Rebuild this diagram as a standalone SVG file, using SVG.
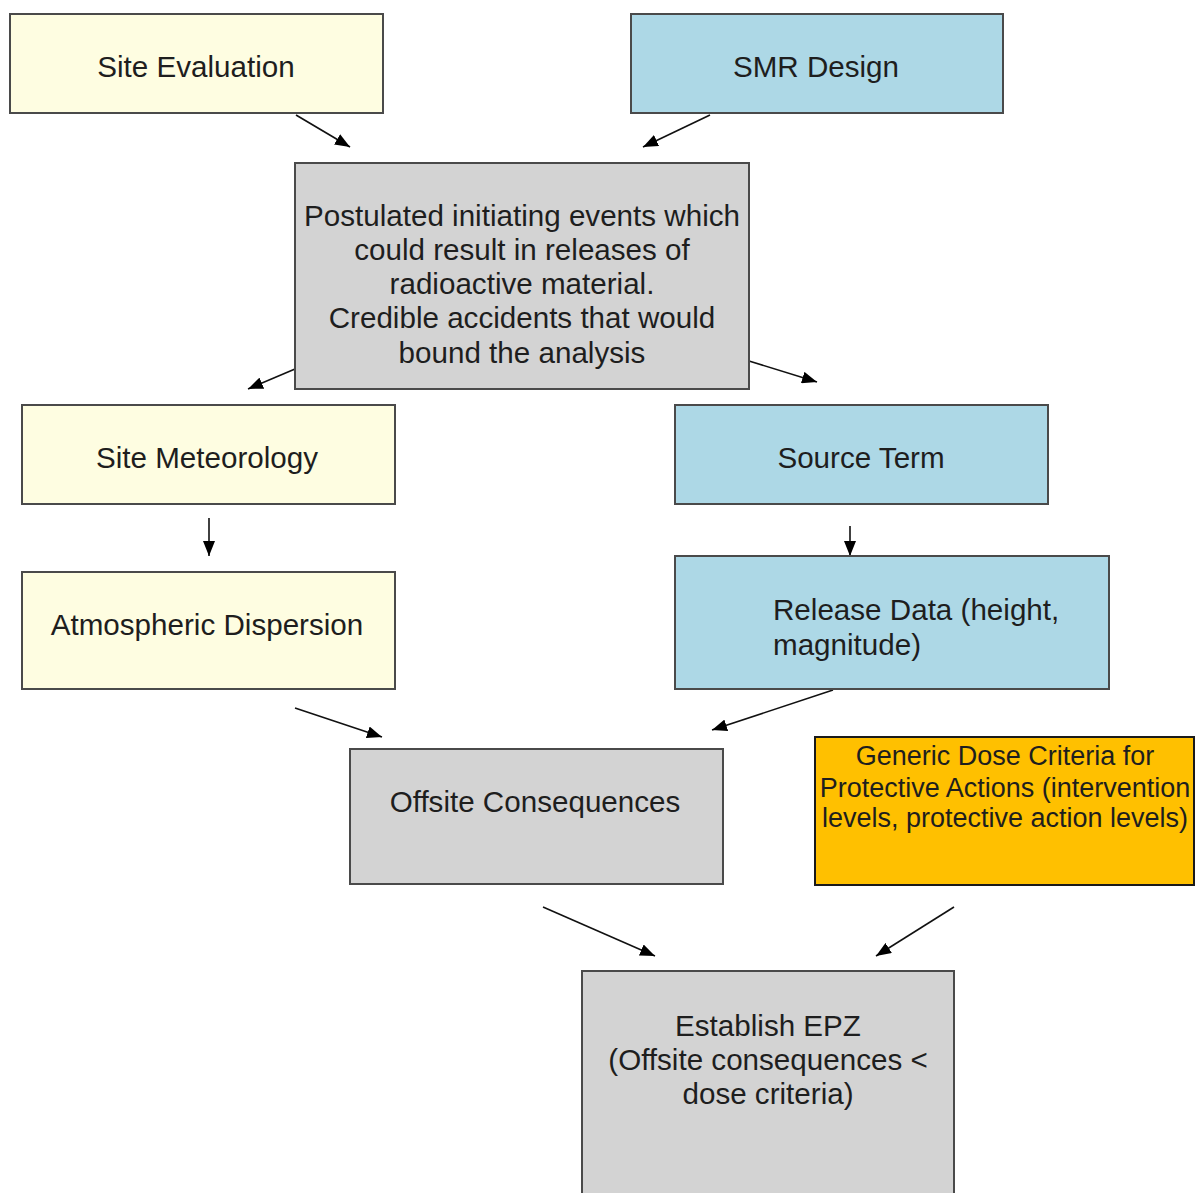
<svg xmlns="http://www.w3.org/2000/svg" width="1195" height="1193" viewBox="0 0 1195 1193">
  <style>
    .box { stroke: #4a4a4a; stroke-width: 2; }
    .yellow { fill: #fefde1; }
    .blue { fill: #add8e6; }
    .gray { fill: #d3d3d3; }
    .orange { fill: #ffc000; stroke: #1a1a1a; }
    text { font-family: "Liberation Sans", Arial, sans-serif; font-size: 29.6px; fill: #1e1e1e; }
    .c { text-anchor: middle; }
    .small { font-size: 27px; }
    .edge { stroke: #111; stroke-width: 1.6; fill: none; marker-end: url(#head); }
  </style>
  <defs>
    <marker id="head" markerUnits="userSpaceOnUse" markerWidth="15" markerHeight="12" refX="15" refY="6" orient="auto">
      <path d="M0,0 L15,6 L0,12 z" fill="#000"/>
    </marker>
  </defs>
  <rect width="1195" height="1193" fill="#fff"/>

  <g id="connectors">
    <line class="edge" x1="296" y1="115" x2="350" y2="147"/>
    <line class="edge" x1="710" y1="115" x2="643" y2="147"/>
    <line class="edge" x1="295" y1="369" x2="248" y2="389"/>
    <line class="edge" x1="749" y1="361" x2="817" y2="382"/>
    <line class="edge" x1="209" y1="518" x2="209" y2="556"/>
    <line class="edge" x1="850" y1="526" x2="850" y2="556"/>
    <line class="edge" x1="295" y1="708" x2="382" y2="737"/>
    <line class="edge" x1="833" y1="690" x2="712" y2="730"/>
    <line class="edge" x1="543" y1="907" x2="655" y2="956"/>
    <line class="edge" x1="954" y1="907" x2="876" y2="956"/>
  </g>

  <g id="site-evaluation">
    <rect class="box yellow" x="10" y="14" width="373" height="99"/>
    <text class="c" x="196" y="77">Site Evaluation</text>
  </g>

  <g id="smr-design">
    <rect class="box blue" x="631" y="14" width="372" height="99"/>
    <text class="c" x="816" y="77">SMR Design</text>
  </g>

  <g id="initiating-events">
    <rect class="box gray" x="295" y="163" width="454" height="226"/>
    <text class="c" x="522" y="226">Postulated initiating events which</text>
    <text class="c" x="522" y="260">could result in releases of</text>
    <text class="c" x="522" y="294">radioactive material.</text>
    <text class="c" x="522" y="328">Credible accidents that would</text>
    <text class="c" x="522" y="363">bound the analysis</text>
  </g>

  <g id="site-meteorology">
    <rect class="box yellow" x="22" y="405" width="373" height="99"/>
    <text class="c" x="207" y="468">Site Meteorology</text>
  </g>

  <g id="source-term">
    <rect class="box blue" x="675" y="405" width="373" height="99"/>
    <text class="c" x="861" y="468">Source Term</text>
  </g>

  <g id="atmospheric-dispersion">
    <rect class="box yellow" x="22" y="572" width="373" height="117"/>
    <text class="c" x="207" y="635">Atmospheric Dispersion</text>
  </g>

  <g id="release-data">
    <rect class="box blue" x="675" y="556" width="434" height="133"/>
    <text x="773" y="620">Release Data (height,</text>
    <text x="773" y="655">magnitude)</text>
  </g>

  <g id="offsite-consequences">
    <rect class="box gray" x="350" y="749" width="373" height="135"/>
    <text class="c" x="535" y="812">Offsite Consequences</text>
  </g>

  <g id="dose-criteria">
    <rect class="orange" stroke-width="2" x="815" y="737" width="379" height="148"/>
    <text class="c small" x="1005" y="765">Generic Dose Criteria for</text>
    <text class="c small" x="1005" y="797">Protective Actions (intervention</text>
    <text class="c small" x="1005" y="827">levels, protective action levels)</text>
  </g>

  <g id="establish-epz">
    <rect class="box gray" x="582" y="971" width="372" height="240"/>
    <text class="c" x="768" y="1036">Establish EPZ</text>
    <text class="c" x="768" y="1070">(Offsite consequences &lt;</text>
    <text class="c" x="768" y="1104">dose criteria)</text>
  </g>
</svg>
